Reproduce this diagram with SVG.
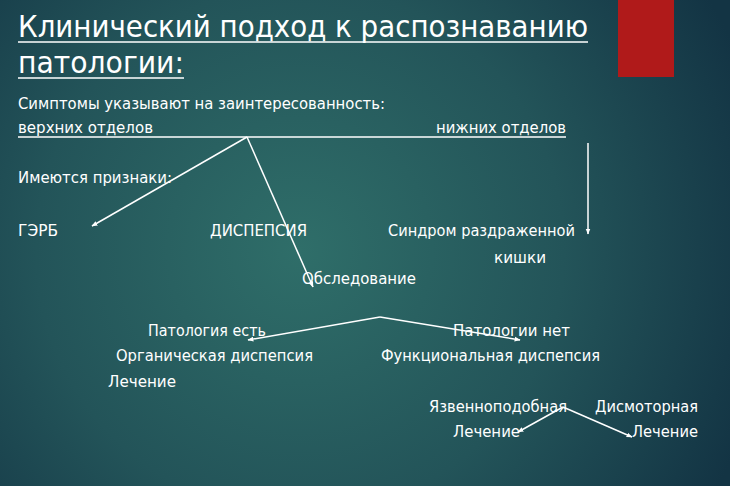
<svg xmlns="http://www.w3.org/2000/svg" width="730" height="486" viewBox="0 0 730 486">
<defs>
<radialGradient id="bg" cx="300" cy="250" r="480" gradientUnits="userSpaceOnUse">
<stop offset="0" stop-color="#2f6e69"/>
<stop offset="0.55" stop-color="#235459"/>
<stop offset="1" stop-color="#133444"/>
</radialGradient>
<marker id="ah" viewBox="0 0 10 10" refX="9" refY="5" markerWidth="6" markerHeight="6" orient="auto" markerUnits="userSpaceOnUse">
<path d="M0,1 L10,5 L0,9 Z" fill="#ffffff"/>
</marker>
<style>
.t{font-family:"DejaVu Sans Condensed","DejaVu Sans",sans-serif;fill:#ffffff;font-size:31px}
.b{font-family:"DejaVu Sans","Verdana",sans-serif;fill:#ffffff;font-size:15px}
.c{stroke:#ffffff;stroke-width:1.5;fill:none}
.u{stroke:#ffffff;stroke-width:1.5}
</style>
</defs>
<rect width="730" height="486" fill="url(#bg)"/>
<rect x="618" y="0" width="56" height="77" fill="#b01a1a"/>
<g id="title">
<text class="t" x="18" y="37" textLength="570" lengthAdjust="spacingAndGlyphs">Клинический подход к распознаванию</text>
<line class="u" x1="18" y1="42" x2="588" y2="42" stroke-width="2"/>
<text class="t" x="18" y="73" textLength="166" lengthAdjust="spacingAndGlyphs">патологии:</text>
<line class="u" x1="18" y1="78" x2="184" y2="78" stroke-width="2"/>
</g>
<g id="symptoms"><text class="b" x="18" y="109" textLength="367" lengthAdjust="spacingAndGlyphs">Симптомы указывают на заинтересованность:</text></g>
<g id="upper"><text class="b" x="18" y="133" textLength="135" lengthAdjust="spacingAndGlyphs">верхних отделов</text></g>
<g id="lower"><text class="b" x="436" y="133" textLength="130" lengthAdjust="spacingAndGlyphs">нижних отделов</text></g>
<line class="u" x1="18" y1="137" x2="566" y2="137"/>
<g id="signs"><text class="b" x="18" y="183" textLength="154" lengthAdjust="spacingAndGlyphs">Имеются признаки:</text></g>
<g id="gerb"><text class="b" x="18" y="236" textLength="40" lengthAdjust="spacingAndGlyphs">ГЭРБ</text></g>
<g id="dyspepsia"><text class="b" x="210" y="236" textLength="97" lengthAdjust="spacingAndGlyphs">ДИСПЕПСИЯ</text></g>
<g id="ibs"><text class="b" x="388" y="236" textLength="187" lengthAdjust="spacingAndGlyphs">Синдром раздраженной</text>
<text class="b" x="494" y="263" textLength="52" lengthAdjust="spacingAndGlyphs">кишки</text></g>
<g id="exam"><text class="b" x="302" y="284" textLength="114" lengthAdjust="spacingAndGlyphs">Обследование</text></g>
<g id="path-yes"><text class="b" x="148" y="336" textLength="118" lengthAdjust="spacingAndGlyphs">Патология есть</text>
<text class="b" x="116" y="361" textLength="197" lengthAdjust="spacingAndGlyphs">Органическая диспепсия</text>
<text class="b" x="108" y="387" textLength="68" lengthAdjust="spacingAndGlyphs">Лечение</text></g>
<g id="path-no"><text class="b" x="453" y="336" textLength="117" lengthAdjust="spacingAndGlyphs">Патологии нет</text>
<text class="b" x="381" y="361" textLength="219" lengthAdjust="spacingAndGlyphs">Функциональная диспепсия</text></g>
<g id="ulcer"><text class="b" x="429" y="412" textLength="138" lengthAdjust="spacingAndGlyphs">Язвенноподобная</text>
<text class="b" x="453" y="437" textLength="67" lengthAdjust="spacingAndGlyphs">Лечение</text></g>
<g id="dysmotor"><text class="b" x="595" y="412" textLength="103" lengthAdjust="spacingAndGlyphs">Дисмоторная</text>
<text class="b" x="632" y="437" textLength="66" lengthAdjust="spacingAndGlyphs">Лечение</text></g>
<g id="connectors">
<line class="c" x1="247" y1="137" x2="92" y2="226" marker-end="url(#ah)"/>
<line class="c" x1="247" y1="137" x2="313" y2="287" marker-end="url(#ah)"/>
<line class="c" x1="588" y1="143" x2="588" y2="234" marker-end="url(#ah)"/>
<line class="c" x1="380" y1="317" x2="248" y2="340" marker-end="url(#ah)"/>
<line class="c" x1="380" y1="317" x2="520" y2="340" marker-end="url(#ah)"/>
<line class="c" x1="563" y1="407" x2="518" y2="432" marker-end="url(#ah)"/>
<line class="c" x1="563" y1="407" x2="632" y2="437" marker-end="url(#ah)"/>
</g>
</svg>
